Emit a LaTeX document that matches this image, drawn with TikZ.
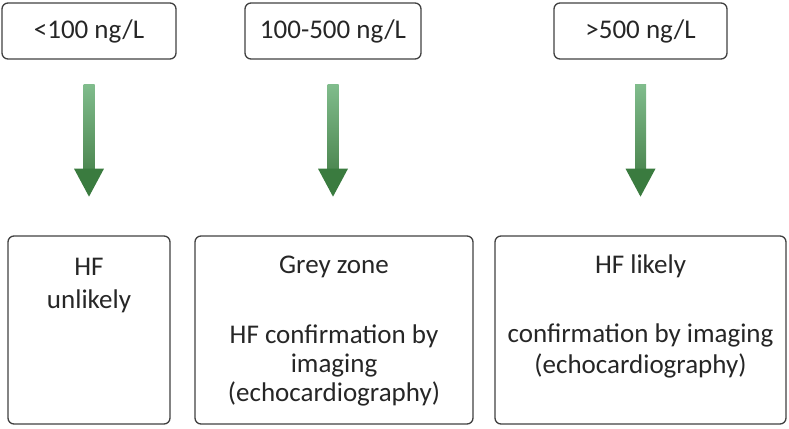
\documentclass[tikz,border=0pt]{standalone}
\usepackage{fontspec}
\setmainfont{Carlito}
\usetikzlibrary{calc}
\definecolor{boxline}{HTML}{404040}
\definecolor{arrlight}{HTML}{80BC8C}
\definecolor{arrdark}{HTML}{3A7B3F}
\definecolor{txt}{HTML}{262626}
\newcommand\greenarrow[1]{%
  \shade[top color=arrlight, bottom color=arrdark!90!white]
    ($(#1.south)+(-5.5,25)$) rectangle ($(#1.south)+(5.5,109.5)$);
  \fill[arrdark] ($(#1.south)+(-15,109)$) -- ($(#1.south)+(15,109)$)
    -- ($(#1.south)+(0,137)$) -- cycle;}
\begin{document}
\begin{tikzpicture}[x=1pt,y=-1pt,
  box/.style={draw=boxline, line width=1.3pt, rounded corners=6pt, inner sep=0pt},
  toptext/.style={font=\fontsize{27}{30}\selectfont, text=txt, text height=18pt, text depth=2pt},
  lbl/.style={font=\fontsize{27}{30}\selectfont, text=txt, align=center, inner sep=0pt, anchor=base}]
\useasboundingbox (0,0) rectangle (789,428);
% top boxes
\node[box, toptext, minimum width=174pt, minimum height=56pt] (t1) at (89,31) {<100 ng/L};
\node[box, toptext, minimum width=176pt, minimum height=56pt] (t2) at (333,31) {100-500 ng/L};
\node[box, toptext, minimum width=173pt, minimum height=56pt] (t3) at (640.5,31) {>500 ng/L};
% bottom boxes
\node[box, minimum width=162pt, minimum height=188pt] (b1) at (89,330) {};
\node[box, minimum width=278pt, minimum height=188pt] (b2) at (334,330) {};
\node[box, minimum width=291pt, minimum height=188pt] (b3) at (640.5,330) {};
% texts (base anchor = baseline of the last line)
\node[lbl] (l1) at (89,308) {HF\\[3pt]unlikely};
\node[lbl] (l2) at (334,401) {Grey zone\\[40pt]HF confirmation by\\[-1pt]imaging\\[-1pt](echocardiography)};
\node[lbl] (l3) at (640.5,373) {HF likely\\[39pt]confirmation by imaging\\[1pt](echocardiography)};
% arrows
\greenarrow{t1}
\greenarrow{t2}
\greenarrow{t3}
\end{tikzpicture}
\end{document}
